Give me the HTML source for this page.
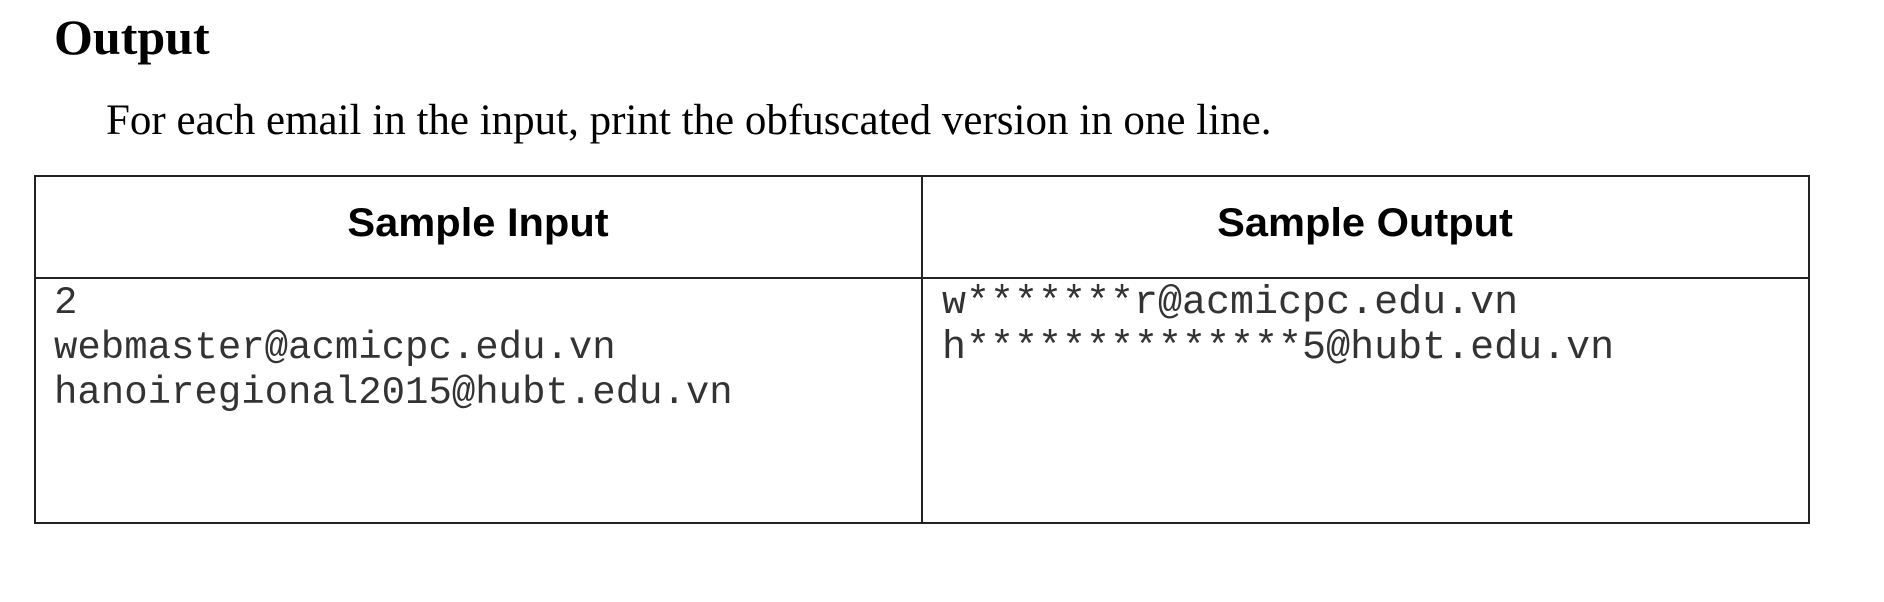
<!DOCTYPE html>
<html><head><meta charset="utf-8"><style>
body{margin:0;width:1884px;height:602px;background:#fff;position:relative;overflow:hidden}
.a{position:absolute;white-space:pre;line-height:1}
.h{font-family:"Liberation Serif",serif;font-weight:bold;font-size:50px;left:54px;top:12px}
.p{font-family:"Liberation Serif",serif;font-size:43px;left:106px;top:99px}
.th{font-family:"Liberation Sans",sans-serif;font-weight:bold;font-size:40px;transform:translateX(-50%) scaleX(1.04);top:203px}
.m{font-family:"Liberation Mono",monospace;font-size:39px;color:#333;line-height:45px}
.l{position:absolute;background:#222}
</style></head><body>
<div class="a h">Output</div>
<div class="a p">For each email in the input, print the obfuscated version in one line.</div>
<div class="l" style="left:34px;top:175px;width:1776px;height:2px"></div>
<div class="l" style="left:34px;top:277px;width:1776px;height:2px"></div>
<div class="l" style="left:34px;top:522px;width:1776px;height:2px"></div>
<div class="l" style="left:34px;top:175px;width:2px;height:349px"></div>
<div class="l" style="left:921px;top:175px;width:2px;height:349px"></div>
<div class="l" style="left:1808px;top:175px;width:2px;height:349px"></div>
<div class="a th" style="left:478px">Sample Input</div>
<div class="a th" style="left:1365px">Sample Output</div>
<div class="a m" style="left:54px;top:281px">2
webmaster@acmicpc.edu.vn
hanoiregional2015@hubt.edu.vn</div>
<div class="a m" style="left:942px;top:281px;font-size:40px">w*******r@acmicpc.edu.vn
h**************5@hubt.edu.vn</div>
</body></html>
